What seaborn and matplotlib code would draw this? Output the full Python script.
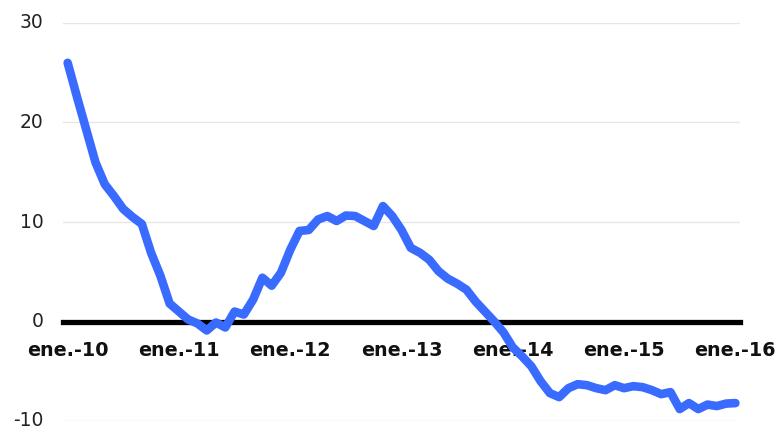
import pandas as pd
import matplotlib
matplotlib.use("Agg")
import matplotlib.pyplot as plt
import seaborn as sns

# Monthly series, ene.-10 to ene.-16
values = [26.0, 22.6, 19.3, 16.0, 13.8, 12.6, 11.3, 10.5, 9.8, 6.9,
          4.6, 1.8, 1.0, 0.2, -0.2, -0.9, -0.1, -0.6, 1.0, 0.7,
          2.2, 4.4, 3.6, 4.9, 7.2, 9.1, 9.2, 10.25, 10.6, 10.1,
          10.65, 10.6, 10.1, 9.6, 11.6, 10.6, 9.2, 7.4, 6.9, 6.2,
          5.05, 4.3, 3.8, 3.2, 2.0, 1.0, 0.0, -1.1, -2.6, -3.5,
          -4.5, -6.0, -7.2, -7.6, -6.7, -6.3, -6.4, -6.7, -6.9, -6.4,
          -6.7, -6.5, -6.6, -6.9, -7.3, -7.1, -8.8, -8.2, -8.8, -8.35,
          -8.5, -8.25, -8.2]
tick_labels = ['ene.-10', 'ene.-11', 'ene.-12', 'ene.-13', 'ene.-14', 'ene.-15', 'ene.-16']
y_ticks = [-10, 0, 10, 20, 30]

df = pd.DataFrame({'mes': range(len(values)), 'valor': values})

sns.set_style("white")
plt.rcParams['font.family'] = ['DejaVu Sans']

fig = plt.figure(figsize=(7.8, 4.3), dpi=100)
ax = fig.add_axes([63 / 780, 1 - 421 / 430, 677 / 780, 398 / 430])

sns.lineplot(data=df, x='mes', y='valor', ax=ax, color='#3a6bff', linewidth=6.2,
             solid_capstyle='round', solid_joinstyle='round', zorder=3)

# move the bottom spine to zero first (this resets the ticks)
for side in ['top', 'right', 'left']:
    ax.spines[side].set_visible(False)
ax.spines['bottom'].set_position(('data', 0))
ax.spines['bottom'].set_color('black')
ax.spines['bottom'].set_linewidth(3.8)

ax.set_xlim(-0.5, len(values) - 0.5)
ax.set_ylim(-10, 30)
ax.set_yticks(y_ticks)
ax.set_yticklabels([str(t) for t in y_ticks], fontsize=13.5, color='#222222', va='center')
ax.set_xticks(range(0, len(values), 12))
ax.set_xticklabels(tick_labels, fontsize=13.8, fontweight='bold', color='#111111')
ax.set_xlabel('')
ax.set_ylabel('')

ax.yaxis.grid(True, color='#e6e6e6', linewidth=1)
ax.xaxis.grid(False)
ax.tick_params(axis='x', length=0, pad=14)
ax.tick_params(axis='y', length=0, pad=14)

fig.savefig('out.png', dpi=100)
